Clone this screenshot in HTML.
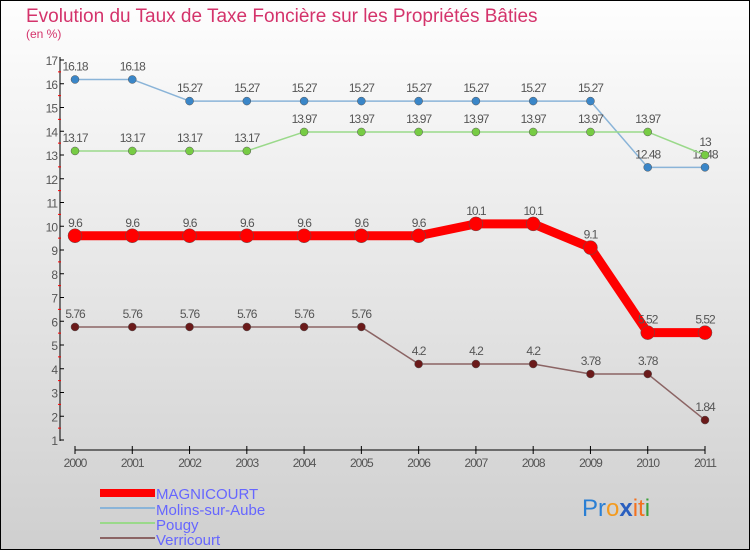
<!DOCTYPE html>
<html><head><meta charset="utf-8"><style>
body{margin:0;width:750px;height:550px;overflow:hidden;font-family:"Liberation Sans",sans-serif}
svg{display:block}
</style></head><body>
<svg id="c" width="750" height="550" xmlns="http://www.w3.org/2000/svg">
<defs><linearGradient id="bg" x1="0" y1="0" x2="0" y2="1"><stop offset="0" stop-color="#fefefe"/><stop offset="1" stop-color="#cfcfcf"/></linearGradient></defs>
<rect x="0.5" y="0.5" width="749" height="549" fill="url(#bg)" stroke="#000"/>
<text x="26" y="22" font-size="19" fill="#d4336b">Evolution du Taux de Taxe Foncière sur les Propriétés Bâties</text>
<text x="26" y="38" font-size="12" fill="#d4336b">(en %)</text>
<g id="axes"></g><g id="series"></g>
<g>
<rect x="100" y="489" width="55" height="8" fill="#f00"/>
<text x="156" y="499" font-size="15" fill="#6666ff">MAGNICOURT</text>
<rect x="100" y="507" width="55" height="2" fill="#8ab4d8"/>
<text x="156" y="515" font-size="15" fill="#6666ff">Molins-sur-Aube</text>
<rect x="100" y="522" width="55" height="2" fill="#9ad98a"/>
<text x="156" y="530" font-size="15" fill="#6666ff">Pougy</text>
<rect x="100" y="537" width="55" height="2" fill="#8b6464"/>
<text x="156" y="545" font-size="15" fill="#6666ff">Verricourt</text>
</g>
<text x="582" y="516" font-size="24"><tspan fill="#2a7fd4">Pr</tspan><tspan fill="#f39a1e">o</tspan><tspan fill="#2a5fbf" font-weight="bold">x</tspan><tspan fill="#f3701e">it</tspan><tspan fill="#3aa03a">i</tspan></text>
</svg>
<script>
const years=[2000,2001,2002,2003,2004,2005,2006,2007,2008,2009,2010,2011];
const magnicourt=[9.6,9.6,9.6,9.6,9.6,9.6,9.6,10.1,10.1,9.1,5.52,5.52];
const molins=[16.18,16.18,15.27,15.27,15.27,15.27,15.27,15.27,15.27,15.27,12.48,12.48];
const pougy=[13.17,13.17,13.17,13.17,13.97,13.97,13.97,13.97,13.97,13.97,13.97,13];
const verricourt=[5.76,5.76,5.76,5.76,5.76,5.76,4.2,4.2,4.2,3.78,3.78,1.84];
const yTicks=[1,2,3,4,5,6,7,8,9,10,11,12,13,14,15,16,17];
const NS="http://www.w3.org/2000/svg";
const x=i=>75+i*(630/11);
const y=v=>440-(v-1)*23.75;
function mk(t,a,p){const e=document.createElementNS(NS,t);for(const k in a)e.setAttribute(k,a[k]);p.appendChild(e);return e;}
const ax=document.getElementById('axes');
let l=mk('line',{x1:60,y1:57,x2:60,y2:441,stroke:'#000'},ax);


yTicks.forEach(v=>{
 mk('line',{x1:60,y1:y(v),x2:64,y2:y(v),stroke:'#000'},ax);
 if(v<17)mk('line',{x1:58,y1:y(v+0.5),x2:61,y2:y(v+0.5),stroke:'#f00'},ax);
 const t=mk('text',{x:57,y:y(v)+5,'font-size':12,fill:'#555','text-anchor':'end','letter-spacing':'-1'},ax);
 t.textContent=v;
 
 
});
l=mk('line',{x1:x(0),y1:450,x2:x(11),y2:450,stroke:'#000'},ax);


years.forEach((yr,i)=>{
 mk('line',{x1:x(i),y1:446,x2:x(i),y2:454,stroke:'#000'},ax);
 const t=mk('text',{x:x(i),y:467,'font-size':12,fill:'#555','text-anchor':'middle','letter-spacing':'-1'},ax);
 t.textContent=yr;
 
 
});
const sg=document.getElementById('series');
function draw(name,data,color,w,r,dot){
 const g=mk('g',{},sg);
 
 
 const pl=mk('polyline',{points:data.map((v,i)=>x(i)+','+y(v)).join(' '),fill:'none',stroke:color,'stroke-width':w,'stroke-linejoin':'round'},g);
 
 
 data.forEach((v,i)=>{
  const c=mk('circle',{cx:x(i),cy:y(v),r:r,fill:dot,stroke:'#555','stroke-width':0.5},g);
  
  
  const t=mk('text',{x:x(i),y:y(v)-9,'font-size':12,fill:'#555','text-anchor':'middle','letter-spacing':'-1'},g);
  t.textContent=v;
  
  
 });
}
draw('molins',molins,'#8ab4d8',1.5,4,'#3a86c8');
draw('pougy',pougy,'#9ad98a',1.5,4,'#77cc44');
draw('verricourt',verricourt,'#8b6464',1.5,4,'#6b1a1a');
draw('magnicourt',magnicourt,'#f00',9,7,'#f00');
</script>
</body></html>
